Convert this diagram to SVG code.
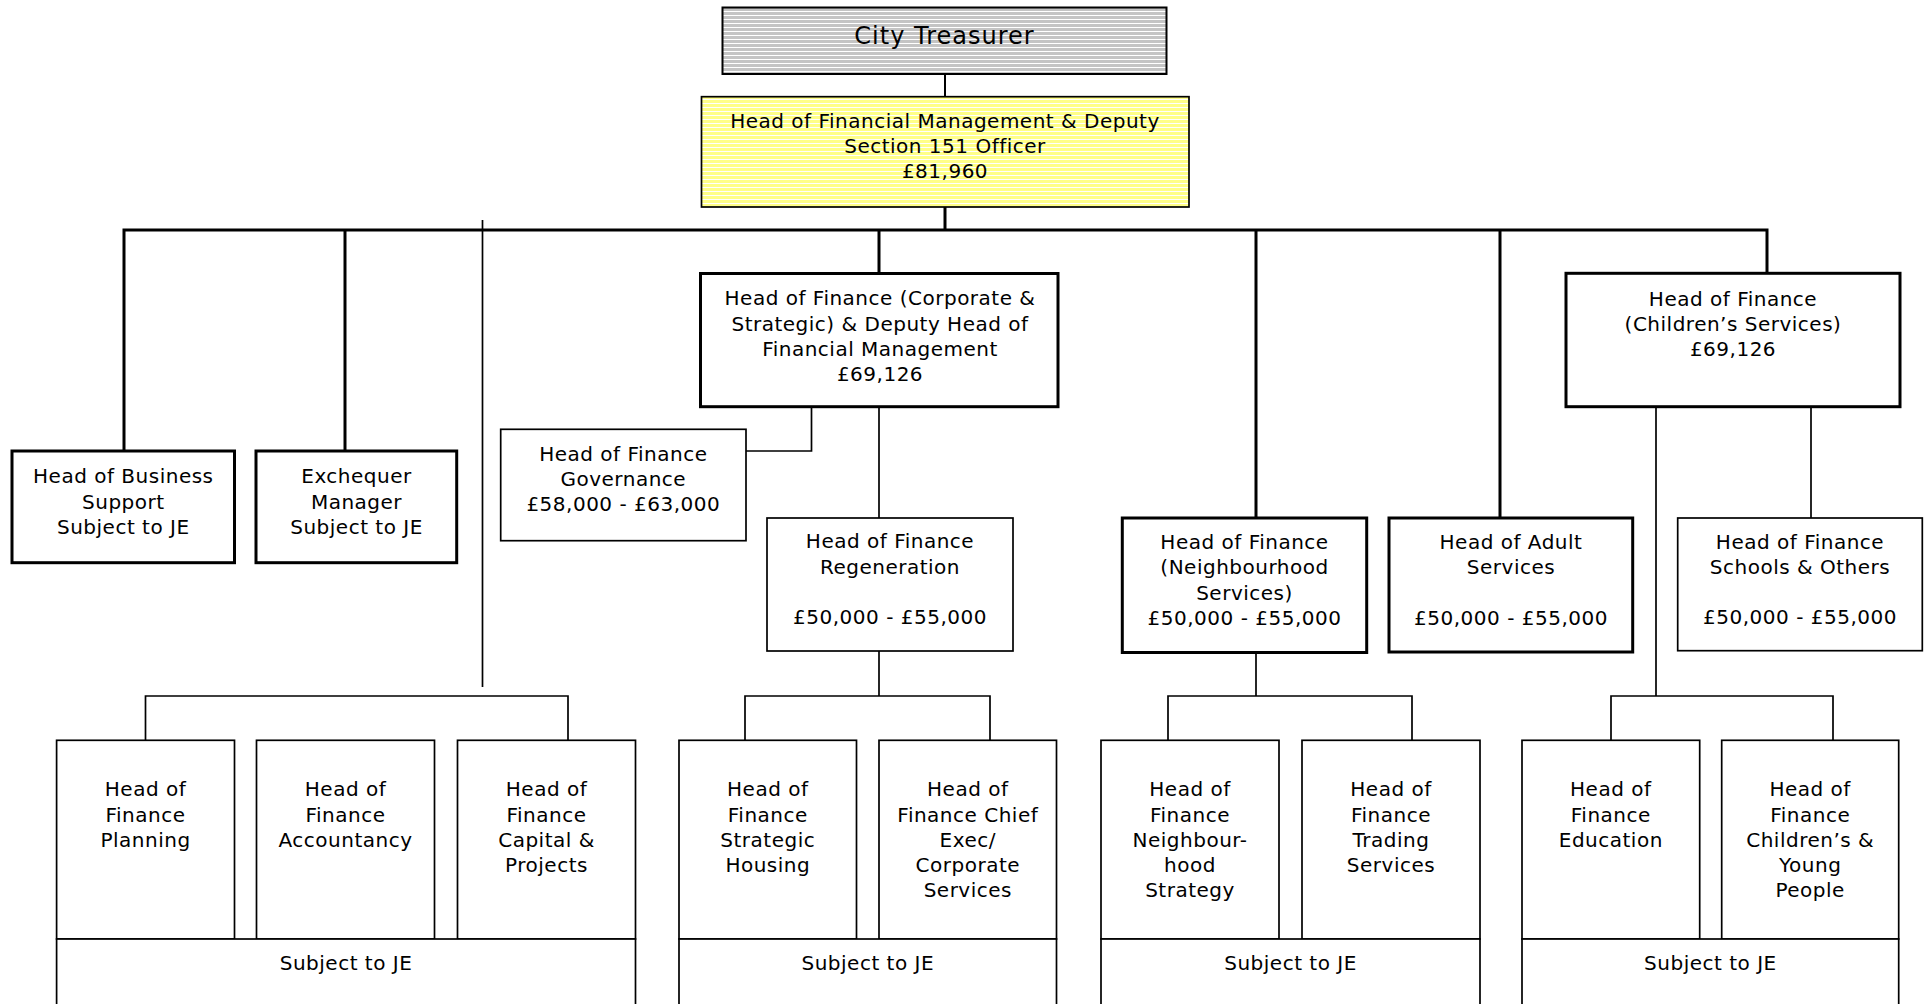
<svg xmlns="http://www.w3.org/2000/svg" width="1930" height="1004" viewBox="0 0 1930 1004">
<defs>
<pattern id="grayStripe" patternUnits="userSpaceOnUse" x="0" y="0" width="8" height="4"><rect width="8" height="4" fill="#c4c4c4"/><rect y="3" width="8" height="1" fill="#ffffff"/></pattern>
<pattern id="yellowStripe" patternUnits="userSpaceOnUse" x="0" y="0" width="8" height="4"><rect width="8" height="4" fill="#ffff88"/><rect y="3" width="8" height="1" fill="#ffffff"/></pattern>
</defs>
<style>
text{font-family:"DejaVu Sans",Verdana,sans-serif;font-size:20px;letter-spacing:0.5px;fill:#000;text-anchor:middle}
.big{font-size:24px;letter-spacing:1px}
.thick{fill:#fff;stroke:#000;stroke-width:3}
.thin{fill:#fff;stroke:#000;stroke-width:1.7}
.c3{stroke:#000;stroke-width:3;fill:none}
.c2{stroke:#000;stroke-width:2;fill:none}
.c1{stroke:#000;stroke-width:1.7;fill:none}
</style>
<rect width="1930" height="1004" fill="#fff"/>
<g id="connectors">
<path class="c2" d="M945 74 V97"/>
<path class="c3" d="M945 207 V230"/>
<path class="c3" d="M124 451 V230 H1767 V273"/>
<path class="c3" d="M345 230 V451"/>
<path class="c3" d="M879 230 V273.5"/>
<path class="c3" d="M1256 230 V518"/>
<path class="c3" d="M1500 230 V518"/>
<path class="c1" d="M482.5 220 V687"/>
<path class="c1" d="M811.5 406.7 V451 H746"/>
<path class="c1" d="M879 406.7 V518"/>
<path class="c1" d="M879 651 V696"/>
<path class="c1" d="M745 740.3 V696 H990 V740.3"/>
<path class="c1" d="M145.5 740.3 V696 H568 V740.3"/>
<path class="c1" d="M1256 652 V696"/>
<path class="c1" d="M1168 740.3 V696 H1412 V740.3"/>
<path class="c1" d="M1656 406.7 V696"/>
<path class="c1" d="M1611 740.3 V696 H1833 V740.3"/>
<path class="c1" d="M1811 406.7 V518"/>
</g>
<g id="city-treasurer">
<rect x="722.5" y="7.5" width="444" height="66.5" fill="url(#grayStripe)" stroke="#000" stroke-width="2"/>
<text class="big" x="944.5" y="44">City Treasurer</text>
</g>
<g id="head-financial-management">
<rect x="701.5" y="96.7" width="487.5" height="110.3" fill="url(#yellowStripe)" stroke="#000" stroke-width="1.7"/>
<text x="945" y="128">Head of Financial Management &amp; Deputy</text>
<text x="945" y="153">Section 151 Officer</text>
<text x="945" y="177.5">£81,960</text>
</g>
<g id="head-business-support">
<rect class="thick" x="12" y="451" width="222.5" height="111.7"/>
<text x="123.3" y="483">Head of Business</text>
<text x="123.3" y="509">Support</text>
<text x="123.3" y="534">Subject to JE</text>
</g>
<g id="exchequer-manager">
<rect class="thick" x="256" y="451" width="200.7" height="111.7"/>
<text x="356.5" y="483">Exchequer</text>
<text x="356.5" y="509">Manager</text>
<text x="356.5" y="534">Subject to JE</text>
</g>
<g id="head-finance-corporate">
<rect class="thick" x="700.5" y="273.5" width="357.5" height="133.2"/>
<text x="880" y="305">Head of Finance (Corporate &amp;</text>
<text x="880" y="330.5">Strategic) &amp; Deputy Head of</text>
<text x="880" y="355.5">Financial Management</text>
<text x="880" y="380.5">£69,126</text>
</g>
<g id="head-finance-governance">
<rect class="thin" x="500.7" y="429.3" width="245.3" height="111.4"/>
<text x="623.3" y="460.5">Head of Finance</text>
<text x="623.3" y="486">Governance</text>
<text x="623.3" y="510.7">£58,000 - £63,000</text>
</g>
<g id="head-finance-regeneration">
<rect class="thin" x="767" y="518" width="246" height="133"/>
<text x="890" y="548.3">Head of Finance</text>
<text x="890" y="574">Regeneration</text>
<text x="890" y="624.3">£50,000 - £55,000</text>
</g>
<g id="head-finance-neighbourhood">
<rect class="thick" x="1122.3" y="518" width="244.4" height="134.5"/>
<text x="1244.5" y="549">Head of Finance</text>
<text x="1244.5" y="574">(Neighbourhood</text>
<text x="1244.5" y="600">Services)</text>
<text x="1244.5" y="625">£50,000 - £55,000</text>
</g>
<g id="head-adult-services">
<rect class="thick" x="1389" y="518" width="243.7" height="134"/>
<text x="1511" y="549">Head of Adult</text>
<text x="1511" y="574">Services</text>
<text x="1511" y="624.5">£50,000 - £55,000</text>
</g>
<g id="head-finance-childrens">
<rect class="thick" x="1566" y="273.3" width="334" height="133.4"/>
<text x="1733" y="305.5">Head of Finance</text>
<text x="1733" y="331">(Children’s Services)</text>
<text x="1733" y="355.7">£69,126</text>
</g>
<g id="head-finance-schools">
<rect class="thin" x="1677.7" y="518" width="244.6" height="132.7"/>
<text x="1800" y="549">Head of Finance</text>
<text x="1800" y="574">Schools &amp; Others</text>
<text x="1800" y="624">£50,000 - £55,000</text>
</g>
<g id="head-finance-planning">
<rect class="thin" x="56.6" y="740.3" width="177.9" height="198.7"/>
<text x="145.5" y="796">Head of</text>
<text x="145.5" y="821.5">Finance</text>
<text x="145.5" y="846.7">Planning</text>
</g>
<g id="head-finance-accountancy">
<rect class="thin" x="256.5" y="740.3" width="178" height="198.7"/>
<text x="345.5" y="796">Head of</text>
<text x="345.5" y="821.5">Finance</text>
<text x="345.5" y="846.7">Accountancy</text>
</g>
<g id="head-finance-capital">
<rect class="thin" x="457.5" y="740.3" width="178" height="198.7"/>
<text x="546.5" y="796">Head of</text>
<text x="546.5" y="821.5">Finance</text>
<text x="546.5" y="846.7">Capital &amp;</text>
<text x="546.5" y="872">Projects</text>
</g>
<g id="je-group-1">
<rect class="thin" x="56.6" y="939" width="578.9" height="75"/>
<text x="346" y="970">Subject to JE</text>
</g>
<g id="head-finance-strategic-housing">
<rect class="thin" x="679" y="740.3" width="177.5" height="198.7"/>
<text x="767.8" y="796">Head of</text>
<text x="767.8" y="821.5">Finance</text>
<text x="767.8" y="846.7">Strategic</text>
<text x="767.8" y="872">Housing</text>
</g>
<g id="head-finance-chief-exec">
<rect class="thin" x="879" y="740.3" width="177.5" height="198.7"/>
<text x="967.8" y="796">Head of</text>
<text x="967.8" y="821.5">Finance Chief</text>
<text x="967.8" y="846.7">Exec/</text>
<text x="967.8" y="872">Corporate</text>
<text x="967.8" y="897.3">Services</text>
</g>
<g id="je-group-2">
<rect class="thin" x="679" y="939" width="377.5" height="75"/>
<text x="867.8" y="970">Subject to JE</text>
</g>
<g id="head-finance-neighbourhood-strategy">
<rect class="thin" x="1101" y="740.3" width="178" height="198.7"/>
<text x="1190" y="796">Head of</text>
<text x="1190" y="821.5">Finance</text>
<text x="1190" y="846.7">Neighbour-</text>
<text x="1190" y="872">hood</text>
<text x="1190" y="897.3">Strategy</text>
</g>
<g id="head-finance-trading">
<rect class="thin" x="1302" y="740.3" width="178" height="198.7"/>
<text x="1391" y="796">Head of</text>
<text x="1391" y="821.5">Finance</text>
<text x="1391" y="846.7">Trading</text>
<text x="1391" y="872">Services</text>
</g>
<g id="je-group-3">
<rect class="thin" x="1101" y="939" width="379" height="75"/>
<text x="1290.5" y="970">Subject to JE</text>
</g>
<g id="head-finance-education">
<rect class="thin" x="1522" y="740.3" width="177.7" height="198.7"/>
<text x="1610.8" y="796">Head of</text>
<text x="1610.8" y="821.5">Finance</text>
<text x="1610.8" y="846.7">Education</text>
</g>
<g id="head-finance-young-people">
<rect class="thin" x="1721.7" y="740.3" width="177" height="198.7"/>
<text x="1810.2" y="796">Head of</text>
<text x="1810.2" y="821.5">Finance</text>
<text x="1810.2" y="846.7">Children’s &amp;</text>
<text x="1810.2" y="872">Young</text>
<text x="1810.2" y="897.3">People</text>
</g>
<g id="je-group-4">
<rect class="thin" x="1522" y="939" width="376.7" height="75"/>
<text x="1710.4" y="970">Subject to JE</text>
</g>
</svg>
